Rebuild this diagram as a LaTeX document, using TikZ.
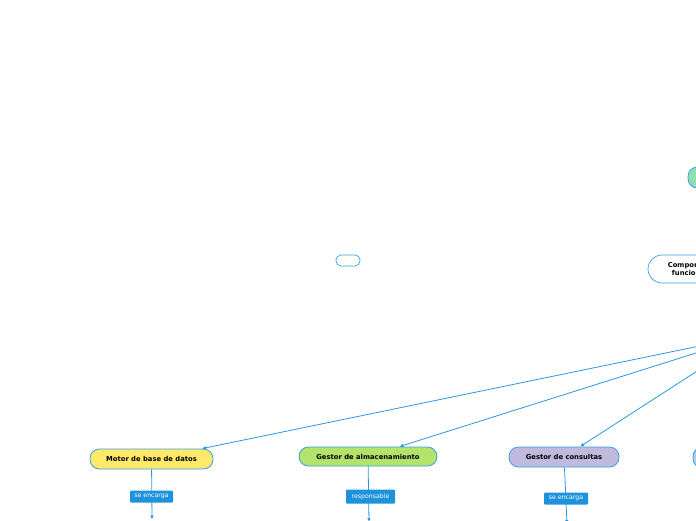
\documentclass[tikz,border=0pt]{standalone}
\usepackage{fontspec}
\setmainfont{DejaVu Sans}
\usetikzlibrary{arrows.meta}
\definecolor{edge}{HTML}{2A98DE}
\definecolor{bord}{HTML}{3A9FE2}
\definecolor{lab}{HTML}{1E93DC}
\definecolor{cyel}{HTML}{FFE96B}
\definecolor{cgrn}{HTML}{B3E36A}
\definecolor{clav}{HTML}{C1BADF}
\definecolor{cmint}{HTML}{8EDFB2}
\definecolor{cblue}{HTML}{A9CDEB}
\begin{document}
\begin{tikzpicture}[x=1pt,y=-1pt,
  topic/.style={draw=bord,line width=0.8pt,rounded corners=9.5pt,inner sep=0pt,minimum height=20pt,font=\fontsize{6.8}{8}\selectfont\bfseries,text=black},
  elabel/.style={fill=lab,text=white,rounded corners=1pt,inner sep=0pt,minimum height=12pt,font=\fontsize{6.2}{7}\selectfont},
  conn/.style={draw=edge,line width=0.8pt,-{Latex[length=4pt,width=3.5pt]}}]
\clip (0,0) rectangle (696,520);
\fill[white] (0,0) rectangle (696,520);
% off-screen root
\coordinate (root) at (753,335);
% right-edge nodes
\node[topic,fill=cmint,minimum width=40pt,minimum height=21pt] (mint) at (708,177.5) {};
\node[draw=bord,line width=0.7pt,rounded corners=14pt,fill=white,minimum width=92pt,minimum height=28pt,inner sep=0pt,align=center,font=\fontsize{6.8}{8}\selectfont\bfseries] (comp) at (694,269) {Componentes\\funcionales};
\node[topic,fill=cblue,minimum width=40pt,minimum height=21pt] (blue) at (713,457.5) {};
% empty node
\node[draw=bord,line width=0.7pt,rounded corners=5pt,fill=white,minimum width=24pt,minimum height=11pt,inner sep=0pt] (empty) at (348,260.5) {};
% children
\node[topic,fill=cyel,minimum width=123pt] (motor) at (151.5,459) {Motor de base de datos};
\node[topic,fill=cgrn,minimum width=138pt,minimum height=19pt] (alm) at (368,456.5) {Gestor de almacenamiento};
\node[topic,fill=clav,minimum width=110pt] (cons) at (564,457) {Gestor de consultas};
% off-screen targets
\coordinate (m2) at (152,519.5);
\coordinate (a2) at (369,522);
\coordinate (c2) at (567,524);
% connectors
\draw[conn] (root) -- (motor);
\draw[conn] (root) -- (alm);
\draw[conn] (root) -- (cons);
\draw[conn] (motor) -- (m2);
\draw[conn] (alm) -- (a2);
\draw[conn] (cons) -- (c2);
% labels
\node[elabel,minimum width=43pt] (l1) at (151.5,496.5) {se encarga};
\node[elabel,minimum width=49pt,minimum height=14pt] (l2) at (370.5,496.5) {responsable};
\node[elabel,minimum width=44pt] (l3) at (566,498.5) {se encarga};
\end{tikzpicture}
\end{document}
